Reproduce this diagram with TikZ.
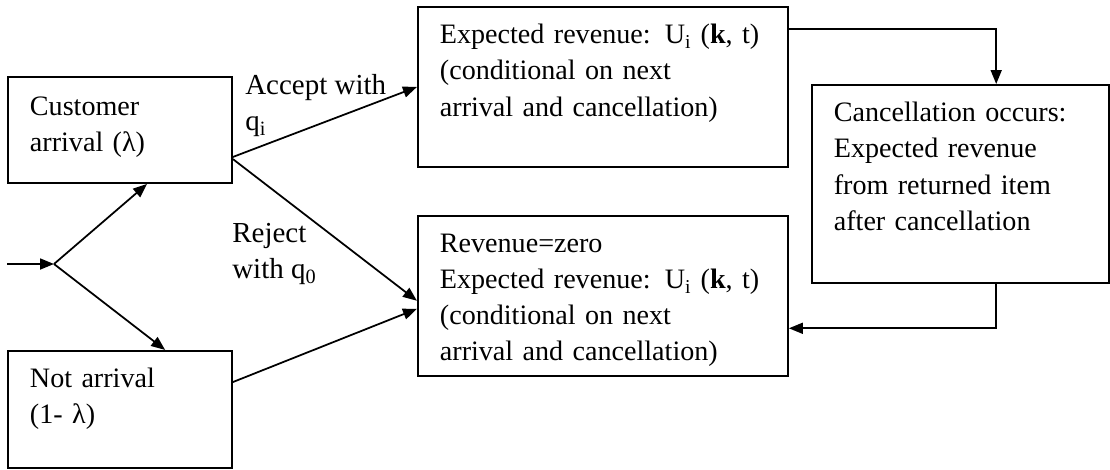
\documentclass[tikz,border=0pt]{standalone}
\usepackage{fontspec}
\setmainfont{Liberation Serif}
\usetikzlibrary{arrows.meta, positioning, calc}

\begin{document}
\begin{tikzpicture}[
  block/.style={rectangle, draw=black, line width=1.1pt, anchor=north west,
                align=left, inner xsep=0.44cm, inner ysep=0.2cm,
                text height=0.54cm, font=\fontsize{16}{20.5}\selectfont},
  flow/.style={line width=1pt, -{Triangle[length=2.8mm, width=2.2mm]}},
  lbl/.style={align=left, inner sep=0pt, anchor=north west,
              font=\fontsize{16.5}{20.5}\selectfont},
]
  \useasboundingbox (0,0) rectangle (22.2,-9.38);

  % ── Arrival events ──
  \node[block, text width=3.60cm, text height=0.58cm, text depth=1.14cm] (cust) at (0.14,-1.52) {Customer\\arrival (λ)};
  \node[block, below=3.32cm of cust.south west, anchor=north west,
        text width=3.60cm, text depth=1.40cm] (notarr) {Not arrival\\(1- λ)};

  % ── Revenue outcomes ──
  \node[block, above right=1.40cm and 3.68cm of cust.north east, anchor=north west,
        text width=6.52cm, text depth=2.26cm] (accrev)
    {Expected revenue: U\textsubscript{i} (\textbf{k}, t)\\(conditional on next\\arrival and cancellation)};
  \node[block, below=0.94cm of accrev.south west, anchor=north west,
        text width=6.52cm, text depth=2.26cm] (rejrev)
    {Revenue=zero\\Expected revenue: U\textsubscript{i} (\textbf{k}, t)\\(conditional on next\\arrival and cancellation)};
  \node[block, below right=1.56cm and 0.44cm of accrev.north east, anchor=north west,
        text width=5.06cm, text depth=3.02cm] (cancel)
    {Cancellation occurs:\\Expected revenue\\from returned item\\after cancellation};

  % ── Branch point ──
  \coordinate (split) at (1.08,-5.28);
  \coordinate (in) at (cust.west |- split);

  \draw[flow] (in) -- (split);
  \draw[flow] (split) -- ($(cust.south west)!0.62!(cust.south east)$);
  \draw[flow] (split) -- ($(notarr.north west)!0.70!(notarr.north east)$);

  % ── Accept / reject ──
  \draw[flow] ($(cust.north east)!0.75!(cust.south east)$) -- (accrev.west);
  \draw[flow] ($(cust.north east)!0.77!(cust.south east)$) -- ($(rejrev.north west)!0.53!(rejrev.south west)$);
  \draw[flow] ($(notarr.north east)!0.27!(notarr.south east)$) -- ($(rejrev.north west)!0.58!(rejrev.south west)$);

  \node[lbl] (acc) at ([shift={(0.24,0.04)}]cust.north east) {Accept with\\q\textsubscript{i}};
  \node[lbl] (rej) at ([shift={(-0.02,-0.78)}]cust.south east) {Reject\\with q\textsubscript{0}};

  % ── Cancellation loop ──
  \draw[flow] ($(accrev.north east)!0.14!(accrev.south east)$) -| ($(cancel.north west)!0.62!(cancel.north east)$);
  \draw[flow] ($(cancel.south west)!0.62!(cancel.south east)$) |- ($(rejrev.north east)!0.70!(rejrev.south east)$);
\end{tikzpicture}
\end{document}
